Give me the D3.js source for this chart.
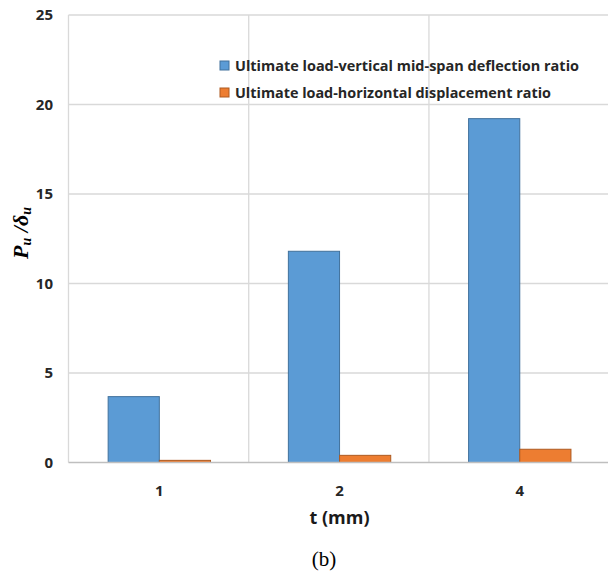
<!DOCTYPE html>
<html>
<head>
<meta charset="utf-8">
<script src="https://cdn.jsdelivr.net/npm/d3@7"></script>
<style>
  body { margin: 0; background: #fff; }
  svg { display: block; }
  text { font-family: "Open Sans", "Liberation Sans", sans-serif; }
</style>
</head>
<body>
<svg id="chart" width="608" height="577"></svg>
<script>
// Chart data
const categories = ["1", "2", "4"];
const seriesNames = [
    "Ultimate load-vertical mid-span deflection ratio",
    "Ultimate load-horizontal displacement ratio"
];
const verticalRatio = [3.68, 11.8, 19.21];
const horizontalRatio = [0.12, 0.4, 0.74];
const yTicks = [0, 5, 10, 15, 20, 25];

const colors = ["#5B9BD5", "#ED7D31"];
const strokes = ["#41719C", "#AE5A21"];

const svg = d3.select("#chart");
const plotLeft = 68.5, plotTop = 15, plotBottom = 462.5, plotRight = 610.6;

const x = d3.scaleBand().domain(categories).range([plotLeft, plotRight])
    .paddingInner(0.432).paddingOuter(0.22);
const xSub = d3.scaleBand().domain([0, 1]).range([0, x.bandwidth()]);
const y = d3.scaleLinear().domain([0, 25]).range([plotBottom, plotTop]);

// Horizontal gridlines
svg.append("g").selectAll("line").data(yTicks.filter(d => d > 0)).join("line")
    .attr("x1", plotLeft).attr("x2", 608)
    .attr("y1", d => y(d)).attr("y2", d => y(d))
    .attr("stroke", "#d9d9d9").attr("stroke-width", 1.3);

// Vertical gridlines at category boundaries
const step = x.step();
svg.append("g").selectAll("line").data(categories).join("line")
    .attr("x1", (d, i) => plotLeft + i * step).attr("x2", (d, i) => plotLeft + i * step)
    .attr("y1", plotTop).attr("y2", plotBottom)
    .attr("stroke", "#d9d9d9").attr("stroke-width", 1.3);

// Bars
const rows = categories.map((c, i) => ({c, v: [verticalRatio[i], horizontalRatio[i]]}));
const groups = svg.append("g").selectAll("g").data(rows).join("g")
    .attr("transform", d => `translate(${x(d.c)},0)`);
groups.selectAll("rect").data(d => d.v.map((v, k) => ({v, k}))).join("rect")
    .attr("x", d => xSub(d.k))
    .attr("width", xSub.bandwidth())
    .attr("y", d => y(d.v))
    .attr("height", d => y(0) - y(d.v))
    .attr("fill", d => colors[d.k])
    .attr("stroke", d => strokes[d.k])
    .attr("stroke-width", 1);

// Baseline
svg.append("line").attr("x1", plotLeft).attr("x2", 608)
    .attr("y1", plotBottom).attr("y2", plotBottom)
    .attr("stroke", "#bfbfbf").attr("stroke-width", 1.5);

// Y tick labels
svg.append("g").selectAll("text").data(yTicks).join("text")
    .attr("x", 53).attr("y", d => y(d) + 5)
    .attr("text-anchor", "end")
    .attr("font-size", 15).attr("font-weight", "bold").attr("fill", "#262626")
    .text(d => d);

// X tick labels
svg.append("g").selectAll("text").data(categories).join("text")
    .attr("x", d => x(d) + x.bandwidth() / 2).attr("y", 496)
    .attr("text-anchor", "middle")
    .attr("font-size", 15).attr("font-weight", "bold").attr("fill", "#262626")
    .text(d => d);

// Axis titles
svg.append("text").attr("x", x("2") + x.bandwidth() / 2).attr("y", 524)
    .attr("text-anchor", "middle").attr("font-size", 18).attr("font-weight", "bold")
    .attr("fill", "#1a1a1a").text("t (mm)");

const yTitle = svg.append("text")
    .attr("transform", "translate(28,233) rotate(-90)")
    .attr("text-anchor", "middle").attr("font-size", 22).attr("font-weight", "bold")
    .attr("font-style", "italic").attr("fill", "#000")
    .style("font-family", "'Liberation Serif', serif");
yTitle.append("tspan").text("P");
yTitle.append("tspan").attr("dy", 3).attr("font-size", 14).text("u");
yTitle.append("tspan").attr("dy", -3).text(" /δ");
yTitle.append("tspan").attr("dy", 3).attr("font-size", 14).text("u");

// Legend
const legend = svg.append("g").selectAll("g").data(seriesNames).join("g")
    .attr("transform", (d, i) => `translate(220,${61 + i * 27})`);
legend.append("rect").attr("width", 9).attr("height", 9)
    .attr("fill", (d, i) => colors[i]).attr("stroke", (d, i) => strokes[i]);
legend.append("text").attr("x", 15).attr("y", 9.5)
    .attr("font-size", 14).attr("font-weight", "bold").attr("fill", "#262626")
    .attr("textLength", (d, i) => i === 0 ? 344 : 316).attr("lengthAdjust", "spacingAndGlyphs")
    .text(d => d);

// Caption
svg.append("text").attr("x", 324).attr("y", 566)
    .attr("text-anchor", "middle").attr("font-size", 21)
    .style("font-family", "'Liberation Serif', 'Times New Roman', serif")
    .text("(b)");
</script>
</body>
</html>
